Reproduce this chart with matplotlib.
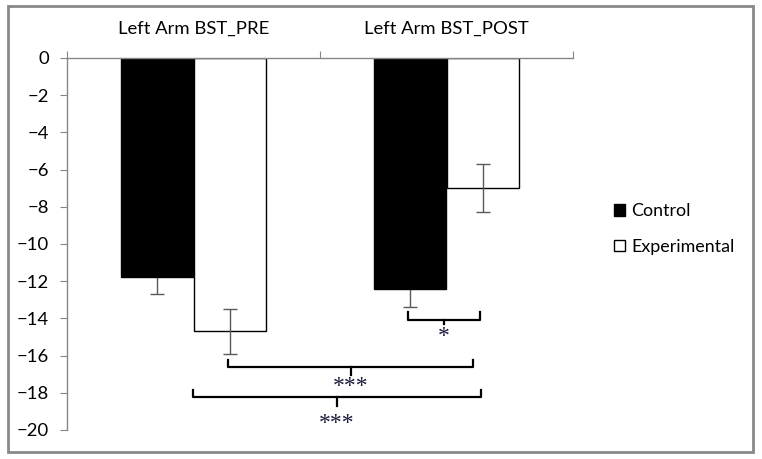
import matplotlib.pyplot as plt
import numpy as np
from matplotlib.patches import Rectangle

plt.rcParams['font.family'] = ['Lato', 'DejaVu Sans']

# data
categories = ['Left Arm BST_PRE', 'Left Arm BST_POST']
control = [-11.8, -12.4]
control_err = [0.9, 1.0]
experimental = [-14.7, -7.0]
experimental_err = [1.2, 1.3]

# significance brackets: (x_left, x_right, x_mid, y_top, y_line, y_tip, label, label_y)
brackets = [
    (0.848, 1.132, 0.99, -13.66, -14.09, -14.3, '*', -15.0),
    (0.136, 1.105, 0.623, -16.24, -16.61, -17.04, '***', -17.65),
    (-0.002, 1.136, 0.567, -17.85, -18.23, -18.71, '***', -19.65),
]

fig = plt.figure(figsize=(7.62, 4.59), dpi=100)
ax = fig.add_axes([67 / 762, 1 - 430 / 459, 506 / 762, 372 / 459])

x = np.arange(len(categories))
w = 0.285
grey = '#868686'
ax.bar(x - w / 2, control, w, color='black', edgecolor='black', linewidth=1,
       label='Control', zorder=2)
ax.bar(x + w / 2, experimental, w, color='white', edgecolor='black', linewidth=1,
       label='Experimental', zorder=2)
# control error bars sit behind the black bars, so only the lower half shows
ax.errorbar(x - w / 2, control, yerr=control_err, fmt='none', ecolor='#595959',
            elinewidth=1, capsize=5, capthick=1, zorder=1)
ax.errorbar(x + w / 2, experimental, yerr=experimental_err, fmt='none', ecolor='#595959',
            elinewidth=1, capsize=5, capthick=1, zorder=3)

for xl, xr, xm, yt, yl, ytip, lab, ly in brackets:
    ax.plot([xl, xl, xr, xr], [yt, yl, yl, yt], color='black', lw=1.6,
            solid_joinstyle='round', clip_on=False)
    ax.plot([xm, xm], [yl, ytip], color='black', lw=1.6, clip_on=False)
    ax.text(xm, ly, lab, ha='center', va='center', fontsize=17,
            family='Liberation Serif', color='#1a1a3a')

ax.set_xlim(-0.5, 1.5)
ax.set_ylim(-20, 0)
ax.set_yticks(np.arange(-20, 1, 2))
ax.tick_params(axis='y', direction='out', length=5, color=grey, pad=8,
               labelsize=13.3)

ax.xaxis.tick_top()
ax.set_xticks([-0.5, 0.5, 1.5])
ax.set_xticklabels([])
ax.set_xticks(x, minor=True)
ax.set_xticklabels(categories, minor=True, fontsize=13.3)
ax.tick_params(axis='x', which='major', direction='out', length=5, color=grey)
ax.tick_params(axis='x', which='minor', length=0, pad=15)

for s in ['right', 'bottom']:
    ax.spines[s].set_visible(False)
for s in ['left', 'top']:
    ax.spines[s].set_color(grey)
    ax.spines[s].set_linewidth(1)

fig.legend(loc='center left', bbox_to_anchor=(598 / 762, 1 - 229 / 459),
           frameon=False, fontsize=12.9, handlelength=0.6, handleheight=0.6,
           handletextpad=0.35, labelspacing=1.1)

fig.patches.append(Rectangle((8 / 762, 1 - 452 / 459), 745 / 762, 446 / 459,
                             transform=fig.transFigure, fill=False,
                             edgecolor='#898989', lw=2))

fig.savefig('out.png', dpi=100)
